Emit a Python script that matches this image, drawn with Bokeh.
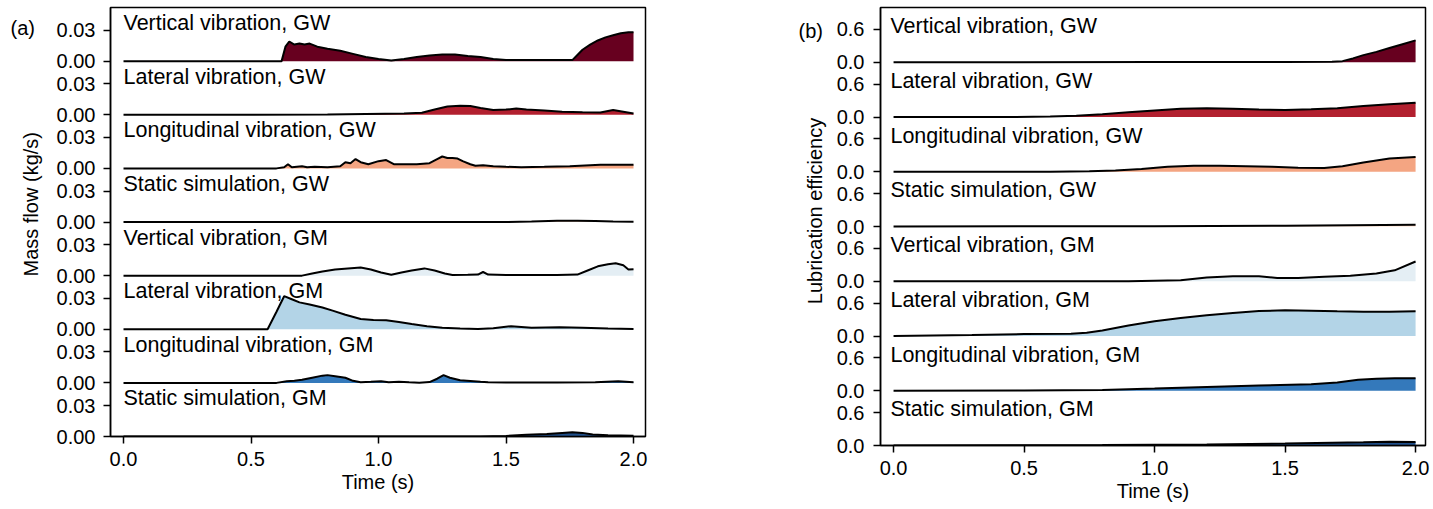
import math

from bokeh.plotting import figure
from bokeh.layouts import row
from bokeh.models import Range1d, FixedTicker
from bokeh.embed import file_html
from bokeh.resources import INLINE
from bokeh.core.properties import value

FONT = "Liberation Sans"
HEIGHT = 509

# ---------------------------------------------------------------- data
case_names = [
    "Vertical vibration, GW", "Lateral vibration, GW",
    "Longitudinal vibration, GW", "Static simulation, GW",
    "Vertical vibration, GM", "Lateral vibration, GM",
    "Longitudinal vibration, GM", "Static simulation, GM",
]
case_colors = ["#67001f", "#b2202f", "#f4a582", "#fddbc7",
               "#e4eef4", "#b3d4e7", "#3479bb", "#1f4e89"]

time_ticks = [0.0, 0.5, 1.0, 1.5, 2.0]
time_tick_labels = ["0.0", "0.5", "1.0", "1.5", "2.0"]
mass_tick_values = [0.0, 0.03]
mass_tick_labels = ["0.00", "0.03"]
lub_tick_values = [0.0, 0.6]
lub_tick_labels = ["0.0", "0.6"]

# (a) mass flow, kg/s
mf_vert_gw_t = [0.0, 0.62, 0.635, 0.65, 0.67, 0.69, 0.71, 0.73, 0.76, 0.80, 0.85, 0.90,
                0.95, 1.00, 1.05, 1.10, 1.15, 1.20, 1.25, 1.30, 1.35, 1.40, 1.45, 1.50,
                1.60, 1.70, 1.76, 1.78, 1.80, 1.83, 1.86, 1.89, 1.92, 1.95, 1.98, 2.0]
mf_vert_gw = [0, 0, 0.014, 0.019, 0.016, 0.017, 0.016, 0.017, 0.014, 0.012, 0.010, 0.007,
              0.004, 0.002, 0.0005, 0.002, 0.004, 0.0055, 0.0065, 0.0065, 0.005, 0.004, 0.002, 0.001,
              0.001, 0.001, 0.001, 0.006, 0.011, 0.016, 0.020, 0.023, 0.025, 0.027, 0.028, 0.028]

mf_lat_gw_t = [0, 0.4, 0.8, 0.95, 1.1, 1.17, 1.22, 1.27, 1.32, 1.36, 1.40, 1.45, 1.50,
               1.54, 1.58, 1.65, 1.72, 1.80, 1.87, 1.92, 1.96, 2.0]
mf_lat_gw = [0, 0, 0.0003, 0.0008, 0.0012, 0.002, 0.005, 0.008, 0.0088, 0.0085, 0.0065, 0.0045,
             0.005, 0.006, 0.005, 0.004, 0.003, 0.0025, 0.0022, 0.0045, 0.003, 0.0013]

mf_long_gw_t = [0, 0.6, 0.63, 0.645, 0.66, 0.7, 0.72, 0.75, 0.8, 0.85, 0.87, 0.89, 0.91, 0.93,
                0.96, 1.0, 1.03, 1.06, 1.10, 1.15, 1.2, 1.23, 1.25, 1.27, 1.29, 1.31, 1.33,
                1.36, 1.38, 1.41, 1.45, 1.5, 1.56, 1.65, 1.75, 1.87, 2.0]
mf_long_gw = [0, 0, 0.001, 0.004, 0.001, 0.002, 0.001, 0.0015, 0.001, 0.002, 0.006, 0.005,
              0.009, 0.006, 0.004, 0.007, 0.008, 0.004, 0.004, 0.004, 0.005, 0.009, 0.0115,
              0.01, 0.01, 0.0095, 0.007, 0.004, 0.0025, 0.003, 0.002, 0.0015, 0.0012, 0.0015,
              0.002, 0.0035, 0.0035]

mf_static_gw_t = [0, 1.5, 1.6, 1.7, 1.78, 1.85, 1.92, 2.0]
mf_static_gw = [0, 0, 0.0004, 0.0011, 0.0012, 0.0009, 0.0005, 0.0003]

mf_vert_gm_t = [0, 0.7, 0.74, 0.78, 0.83, 0.88, 0.93, 0.97, 1.01, 1.05, 1.09, 1.13, 1.18, 1.22,
                1.26, 1.29, 1.35, 1.39, 1.41, 1.43, 1.5, 1.6, 1.7, 1.78, 1.82, 1.86, 1.9, 1.93,
                1.96, 1.98, 2.0]
mf_vert_gm = [0, 0, 0.002, 0.004, 0.006, 0.007, 0.0078, 0.006, 0.003, 0.0008, 0.003, 0.005,
              0.007, 0.005, 0.002, 0.0007, 0.0008, 0.001, 0.0035, 0.001, 0.0007, 0.0007, 0.0007,
              0.001, 0.005, 0.009, 0.011, 0.012, 0.01, 0.006, 0.0062]

mf_lat_gm_t = [0, 0.565, 0.6, 0.63, 0.66, 0.69, 0.73, 0.78, 0.82, 0.87, 0.93, 0.98, 1.03, 1.08,
               1.13, 1.19, 1.25, 1.32, 1.39, 1.45, 1.52, 1.6, 1.71, 1.8, 1.9, 2.0]
mf_lat_gm = [0, 0, 0.017, 0.032, 0.029, 0.026, 0.024, 0.021, 0.018, 0.014, 0.010, 0.009,
             0.0087, 0.007, 0.005, 0.003, 0.0015, 0.0008, 0.0003, 0.001, 0.003, 0.0015, 0.002,
             0.0015, 0.0008, 0.0003]

mf_long_gm_t = [0, 0.6, 0.64, 0.67, 0.7, 0.74, 0.78, 0.8, 0.83, 0.87, 0.9, 0.93, 0.97, 1.01,
                1.04, 1.08, 1.12, 1.16, 1.2, 1.23, 1.255, 1.28, 1.32, 1.36, 1.4, 1.43, 1.5,
                1.7, 1.85, 1.94, 2.0]
mf_long_gm = [0, 0, 0.0015, 0.002, 0.003, 0.005, 0.007, 0.0075, 0.0065, 0.005, 0.002, 0.0007,
              0.001, 0.0016, 0.0007, 0.0012, 0.0006, 0.0002, 0.0008, 0.004, 0.0075, 0.005,
              0.0026, 0.0018, 0.001, 0.0005, 0.0003, 0.0003, 0.0006, 0.0016, 0.0006]

mf_static_gm_t = [0, 1.4, 1.5, 1.58, 1.66, 1.72, 1.76, 1.8, 1.84, 1.9, 2.0]
mf_static_gm = [0, 0, 0.0005, 0.0016, 0.0025, 0.0035, 0.004, 0.0035, 0.002, 0.0012, 0.0007]

# (b) lubrication efficiency
le_vert_gw_t = [0, 1.0, 1.5, 1.68, 1.72, 1.76, 1.8, 1.85, 1.9, 1.95, 2.0]
le_vert_gw = [0, 0.003, 0.006, 0.008, 0.02, 0.07, 0.13, 0.19, 0.26, 0.33, 0.40]

le_lat_gw_t = [0, 0.45, 0.6, 0.7, 0.8, 0.9, 1.0, 1.1, 1.2, 1.3, 1.4, 1.5, 1.6, 1.7, 1.8, 1.9, 2.0]
le_lat_gw = [0, 0.0, 0.01, 0.025, 0.05, 0.085, 0.12, 0.15, 0.16, 0.15, 0.135, 0.13, 0.14,
             0.16, 0.2, 0.235, 0.26]

le_long_gw_t = [0, 0.6, 0.75, 0.85, 0.95, 1.05, 1.15, 1.25, 1.35, 1.45, 1.55, 1.65, 1.72,
                1.8, 1.9, 2.0]
le_long_gw = [0, 0.0, 0.01, 0.025, 0.05, 0.09, 0.11, 0.11, 0.1, 0.09, 0.075, 0.07, 0.1,
              0.17, 0.24, 0.27]

le_static_gw_t = [0, 1.0, 1.5, 2.0]
le_static_gw = [0, 0.005, 0.015, 0.03]

le_vert_gm_t = [0, 0.9, 1.1, 1.2, 1.3, 1.4, 1.47, 1.55, 1.65, 1.75, 1.85, 1.92, 2.0]
le_vert_gm = [0, 0.0, 0.02, 0.07, 0.09, 0.09, 0.06, 0.06, 0.08, 0.1, 0.14, 0.2, 0.36]

le_lat_gm_t = [0, 0.3, 0.5, 0.68, 0.74, 0.8, 0.9, 1.0, 1.1, 1.2, 1.3, 1.4, 1.5, 1.6, 1.7,
               1.8, 1.9, 2.0]
le_lat_gm = [0, 0.02, 0.035, 0.04, 0.06, 0.1, 0.19, 0.27, 0.33, 0.38, 0.42, 0.455, 0.47,
             0.46, 0.45, 0.445, 0.445, 0.45]

le_long_gm_t = [0, 0.5, 0.8, 1.0, 1.2, 1.4, 1.6, 1.7, 1.78, 1.85, 1.92, 2.0]
le_long_gm = [0, 0.005, 0.015, 0.04, 0.07, 0.095, 0.12, 0.15, 0.2, 0.22, 0.23, 0.23]

le_static_gm_t = [0, 0.8, 1.2, 1.5, 1.8, 1.9, 2.0]
le_static_gm = [0, 0.01, 0.02, 0.035, 0.06, 0.07, 0.065]

mass_series = [(mf_vert_gw_t, mf_vert_gw), (mf_lat_gw_t, mf_lat_gw),
               (mf_long_gw_t, mf_long_gw), (mf_static_gw_t, mf_static_gw),
               (mf_vert_gm_t, mf_vert_gm), (mf_lat_gm_t, mf_lat_gm),
               (mf_long_gm_t, mf_long_gm), (mf_static_gm_t, mf_static_gm)]
lub_series = [(le_vert_gw_t, le_vert_gw), (le_lat_gw_t, le_lat_gw),
              (le_long_gw_t, le_long_gw), (le_static_gw_t, le_static_gw),
              (le_vert_gm_t, le_vert_gm), (le_lat_gm_t, le_lat_gm),
              (le_long_gm_t, le_long_gm), (le_static_gm_t, le_static_gm)]


def ridge_panel(series, row_span, tick_values, tick_labels, x_range, frame, borders,
                label_dx, label_dy, y_tick_standoff):
    """Stacked ridge plot: every case gets one row of the y range."""
    n = len(series)
    left, right, top, bottom = borders
    p = figure(frame_width=frame[0], frame_height=frame[1], x_range=Range1d(*x_range),
               y_range=Range1d(0, n), output_backend="svg", toolbar_location=None,
               min_border_left=left, min_border_right=right,
               min_border_top=top, min_border_bottom=bottom)
    p.background_fill_color = "white"
    p.border_fill_color = "white"
    p.grid.visible = False
    p.outline_line_color = "black"
    p.outline_line_width = 1.5

    ticks, overrides = [], {}
    for k, ((t, v), color) in enumerate(zip(series, case_colors)):
        base = n - 1 - k
        ys = [base + val / row_span for val in v]
        p.varea(x=t, y1=[base] * len(t), y2=ys, fill_color=color, fill_alpha=1.0)
        p.line(x=t, y=ys, line_color="black", line_width=2)
        for tv, tl in zip(tick_values, tick_labels):
            pos = round(base + tv / row_span, 6)
            ticks.append(pos)
            overrides[pos] = tl

    # case names in the top-left corner of every ridge
    p.text(x=[label_dx] * n, y=[n - 1 - k + label_dy for k in range(n)], text=case_names,
           text_font=value(FONT), text_font_size="21.5px", text_color="black",
           text_align="left", text_baseline="middle")

    p.yaxis.ticker = FixedTicker(ticks=sorted(ticks))
    p.yaxis.major_label_overrides = overrides
    p.xaxis.ticker = FixedTicker(ticks=time_ticks)
    p.xaxis.major_label_overrides = dict(zip(time_ticks, time_tick_labels))
    p.xaxis.axis_label = "Time (s)"

    for ax in (p.xaxis[0], p.yaxis[0]):
        ax.axis_line_color = "black"
        ax.axis_line_width = 1.5
        ax.major_tick_line_color = "black"
        ax.major_tick_line_width = 1.5
        ax.major_tick_in = 0
        ax.major_tick_out = 7
        ax.minor_tick_line_color = None
        ax.major_label_text_font = FONT
        ax.major_label_text_font_size = "20px"
        ax.major_label_text_color = "black"
        ax.axis_label_text_font = FONT
        ax.axis_label_text_font_size = "20px"
        ax.axis_label_text_font_style = "normal"
        ax.axis_label_text_color = "black"
    p.xaxis.major_label_standoff = 8
    p.xaxis.axis_label_standoff = 2
    p.yaxis.major_label_standoff = y_tick_standoff
    return p


def side_strip(width, tag, tag_xy, title, title_xy):
    """Margin strip holding the panel tag and the rotated y-axis title."""
    s = figure(width=width, height=HEIGHT, x_range=Range1d(0, width),
               y_range=Range1d(0, HEIGHT), output_backend="svg", toolbar_location=None,
               x_axis_type=None, y_axis_type=None, min_border=0)
    s.grid.visible = False
    s.outline_line_color = None
    s.background_fill_color = "white"
    s.border_fill_color = "white"
    s.text(x=[tag_xy[0]], y=[HEIGHT - tag_xy[1]], text=[tag], text_font=value(FONT),
           text_font_size="20px", text_color="black",
           text_align="left", text_baseline="middle")
    s.text(x=[title_xy[0]], y=[HEIGHT - title_xy[1]], text=[title], text_font=value(FONT),
           text_font_size="20px", text_color="black", angle=math.pi / 2,
           text_align="center", text_baseline="middle")
    return s


strip_a = side_strip(45, "(a)", (10, 24), "Mass flow (kg/s)", (30, 234))
left_panel = ridge_panel(mass_series, 0.0519, mass_tick_values, mass_tick_labels,
                         (-0.051, 2.047), (535, 429), (65, 45, 6, 74), 0.0, 0.71, 8)
strip_b = side_strip(140, "(b)", (108, 28), "Lubrication efficiency", (124, 242))
right_panel = ridge_panel(lub_series, 1.0, lub_tick_values, lub_tick_labels,
                          (-0.05, 2.038), (545, 438), (50, 8, 7, 64), -0.012, 0.66, 9)

layout = row(strip_a, left_panel, strip_b, right_panel)
open("out.html", "w").write(file_html(layout, INLINE))
